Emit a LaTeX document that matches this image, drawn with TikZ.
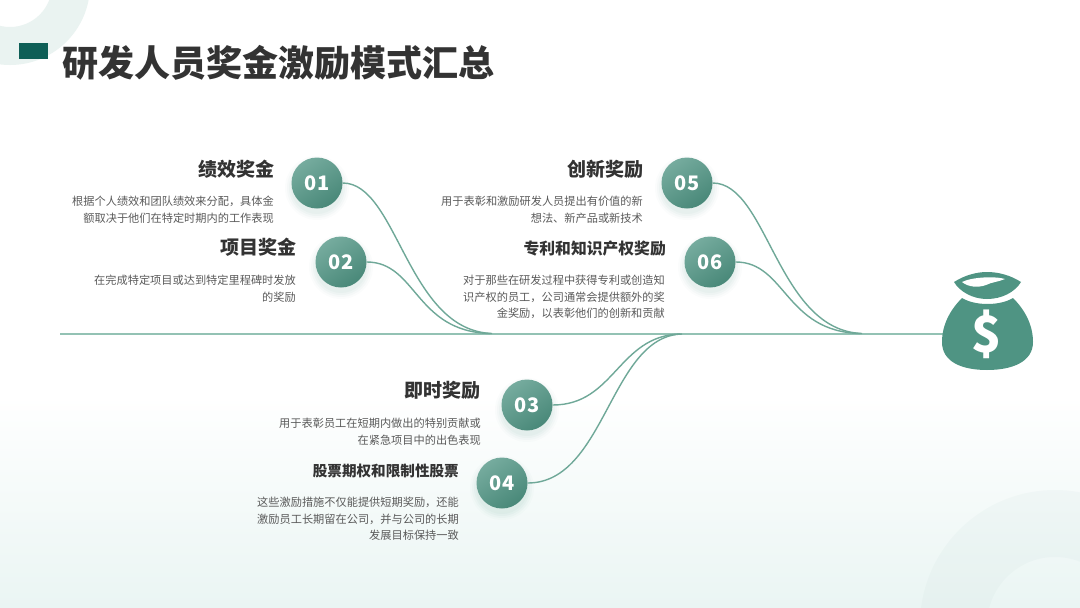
\documentclass[tikz,border=0pt]{standalone}
\usepackage{fontspec}
\setmainfont{Noto Sans CJK SC}
\usetikzlibrary{calc}
\definecolor{ink}{HTML}{333333}
\definecolor{bodyink}{HTML}{5A5A5A}
\definecolor{teal}{HTML}{4F9483}
\definecolor{flow}{HTML}{6FA898}
\definecolor{spine}{HTML}{93C2B4}
\definecolor{deep}{HTML}{0F5F57}
\definecolor{pale}{HTML}{EAF3F1}
\definecolor{floor}{HTML}{EAF5F3}
\tikzset{
  head/.style={anchor=east,inner sep=0pt,text=ink,font=\fontsize{19}{22}\selectfont\bfseries},
  headsm/.style={anchor=east,inner sep=0pt,text=ink,font=\fontsize{15.8}{20}\selectfont\bfseries},
  headxs/.style={anchor=east,inner sep=0pt,text=ink,font=\fontsize{14.6}{20}\selectfont\bfseries},
  copy/.style={anchor=north east,inner sep=0pt,align=right,text=bodyink,font=\fontsize{11.2}{16.6}\selectfont},
  num/.style={circle,minimum size=51pt,inner sep=0pt,text=white,shading=axis,left color=teal!78!white,right color=teal!92!black,shading angle=35,font=\fontsize{20}{22}\selectfont\bfseries},
  flowline/.style={draw=flow,line width=1.4pt},
  spineline/.style={draw=spine,line width=2.2pt}
}
\newcommand{\softshadow}[2]{%
  \foreach \r/\o in {32/.02,30/.03,28/.04,26/.04}{\fill[teal,opacity=\o] (#1,#2+5) circle (\r);}}
\begin{document}
\begin{tikzpicture}[x=1pt,y=-1pt]
\useasboundingbox (0,0) rectangle (1080,608);
% background
\fill[white] (0,0) rectangle (1080,395);
\shade[top color=white,bottom color=floor] (0,395) rectangle (1080,608);
\begin{scope}
\clip (0,0) rectangle (1080,608);
\fill[pale,even odd rule] (10,-15) circle (80) (10,-15) circle (42);
\fill[teal,opacity=.03,even odd rule] (1055,625) circle (135) (1055,625) circle (68);
\end{scope}
% title
\fill[deep] (19,43) rectangle (48,59);
\node[anchor=west,inner sep=0pt,text=ink,font=\fontsize{36}{40}\selectfont\bfseries] (title) at (62,63) {研发人员奖金激励模式汇总};
% spine and bag anchors
\coordinate (sstart) at (60,334);
\coordinate (send) at (946,334);
\coordinate (j1) at (492,333.5);
\coordinate (j2) at (490,333.5);
\coordinate (j3) at (680,334);
\coordinate (j4) at (682,334);
\coordinate (j5) at (862,333.5);
\coordinate (j6) at (860,333.5);
\draw[spineline] (sstart) -- (send);
% circle shadows
\softshadow{317}{183}\softshadow{341}{262}\softshadow{527}{405}\softshadow{502}{483}\softshadow{687}{183}\softshadow{710}{262}
% circles
\node[num] (n1) at (317,183) {01};
\node[num] (n2) at (341,262) {02};
\node[num] (n3) at (527,405) {03};
\node[num] (n4) at (502,483) {04};
\node[num] (n5) at (687,183) {05};
\node[num] (n6) at (710,262) {06};
% connectors
\draw[flowline] (n1.east) .. controls +(55,0) and +(-85,-3) .. (j1);
\draw[flowline] (n2.east) .. controls +(50,0) and +(-75,-2) .. (j2);
\draw[flowline] (n5.east) .. controls +(55,0) and +(-85,-3) .. (j5);
\draw[flowline] (n6.east) .. controls +(50,0) and +(-75,-2) .. (j6);
\draw[flowline] (n3.east) .. controls +(62,0) and +(-62,2) .. (j3);
\draw[flowline] (n4.east) .. controls +(78,0) and +(-72,2) .. (j4);
% texts
\node[head] (h1) at (275,169) {绩效奖金};
\node[copy] (b1) at (274,196) {根据个人绩效和团队绩效来分配，具体金\\额取决于他们在特定时期内的工作表现};
\node[head] (h2) at (297,247) {项目奖金};
\node[copy] (b2) at (296,275) {在完成特定项目或达到特定里程碑时发放\\的奖励};
\node[head] (h5) at (644,169) {创新奖励};
\node[copy] (b5) at (643,196) {用于表彰和激励研发人员提出有价值的新\\想法、新产品或新技术};
\node[headsm] (h6) at (666,249) {专利和知识产权奖励};
\node[copy] (b6) at (665,275) {对于那些在研发过程中获得专利或创造知\\识产权的员工，公司通常会提供额外的奖\\金奖励，以表彰他们的创新和贡献};
\node[head] (h3) at (481,390) {即时奖励};
\node[copy] (b3) at (481,418) {用于表彰员工在短期内做出的特别贡献或\\在紧急项目中的出色表现};
\node[headxs] (h4) at (459,471) {股票期权和限制性股票};
\node[copy] (b4) at (459,497) {这些激励措施不仅能提供短期奖励，还能\\激励员工长期留在公司，并与公司的长期\\发展目标保持一致};
% money bag
\fill[teal] (954,282) .. controls (965,275) and (977,272) .. (987,272)
  .. controls (998,272) and (1010,275) .. (1021,282)
  .. controls (1015,292) and (1002,299) .. (987,299)
  .. controls (973,299) and (960,292) .. (954,282) -- cycle;
\fill[white] (962,282) .. controls (972,277) and (995,276) .. (1005,279)
  .. controls (998,282) and (992,282) .. (986,285)
  .. controls (978,288) and (968,287) .. (962,282) -- cycle;
\fill[teal] (962,298) .. controls (975,306) and (1000,306) .. (1013,298)
  .. controls (1025,310) and (1033,325) .. (1033,342)
  .. controls (1033,362) and (1012,370) .. (987,370)
  .. controls (962,370) and (942,362) .. (942,342)
  .. controls (942,325) and (950,310) .. (962,298) -- cycle;
\node[inner sep=0pt,text=white,font=\fontsize{50}{54}\selectfont\bfseries] (dollar) at (987,334) {\$};
\end{tikzpicture}
\end{document}
